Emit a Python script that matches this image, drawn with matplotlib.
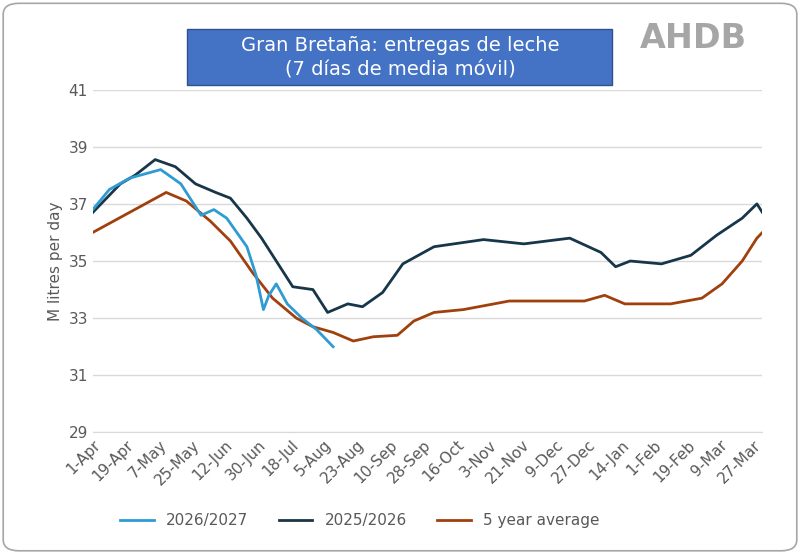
import matplotlib.pyplot as plt
from matplotlib.patches import FancyBboxPatch, Rectangle

tick_labels = ['1-Apr', '19-Apr', '7-May', '25-May', '12-Jun', '30-Jun', '18-Jul', '5-Aug',
               '23-Aug', '10-Sep', '28-Sep', '16-Oct', '3-Nov', '21-Nov', '9-Dec', '27-Dec',
               '14-Jan', '1-Feb', '19-Feb', '9-Mar', '27-Mar']

# days since 1-Apr
avg_days = [0, 20, 40, 51, 64, 75, 87, 98, 111, 120, 131, 142, 153, 166, 175, 186, 202, 227,
            246, 268, 279, 290, 315, 332, 343, 354, 362, 365]
avg_vals = [36.0, 36.7, 37.4, 37.1, 36.4, 35.7, 34.6, 33.7, 33.0, 32.7, 32.5, 32.2, 32.35,
            32.4, 32.9, 33.2, 33.3, 33.6, 33.6, 33.6, 33.8, 33.5, 33.5, 33.7, 34.2, 35.0, 35.8,
            36.0]

y25_days = [0, 15, 23, 34, 45, 56, 67, 75, 84, 92, 100, 109, 120, 128, 139, 147, 158, 169,
            186, 213, 235, 260, 277, 285, 293, 310, 326, 340, 354, 362, 365]
y25_vals = [36.7, 37.7, 38.0, 38.55, 38.3, 37.7, 37.4, 37.2, 36.5, 35.8, 35.0, 34.1, 34.0,
            33.2, 33.5, 33.4, 33.9, 34.9, 35.5, 35.75, 35.6, 35.8, 35.3, 34.8, 35.0, 34.9,
            35.2, 35.9, 36.5, 37.0, 36.7]

y26_days = [0, 9, 20, 37, 48, 59, 66, 73, 84, 89, 93, 96, 100, 106, 114, 122, 131]
y26_vals = [36.8, 37.5, 37.9, 38.2, 37.7, 36.6, 36.8, 36.5, 35.5, 34.5, 33.3, 33.8, 34.2,
            33.5, 33.0, 32.6, 32.0]

fig = plt.figure(figsize=(8, 5.53), dpi=100)
fig.patches.append(FancyBboxPatch((0.004, 0.004), 0.992, 0.99, boxstyle='round,pad=0,rounding_size=0.02',
                                  transform=fig.transFigure, fc='none', ec='#a6a6a6', lw=1.2))
ax = fig.add_axes([0.116, 0.218, 0.837, 0.62])
ax.plot(avg_days, avg_vals, color='#a0410d', lw=2, label='5 year average')
ax.plot(y25_days, y25_vals, color='#18364a', lw=2, label='2025/2026')
ax.plot(y26_days, y26_vals, color='#2e9bd5', lw=2, label='2026/2027')
ax.set_ylim(29, 41)
ax.set_yticks(range(29, 42, 2))
ax.set_xlim(0, 365)
ax.set_xticks([i * 18 for i in range(21)])
ax.set_xticklabels(tick_labels, rotation=45, ha='right', rotation_mode='anchor')
ax.tick_params(colors='#595959', labelsize=11, length=0)
ax.grid(axis='y', color='#d9d9d9', lw=1)
for s in ['top', 'right', 'left']:
    ax.spines[s].set_visible(False)
ax.spines['bottom'].set_color('#d9d9d9')
ax.set_ylabel('M litres per day', color='#595959', fontsize=11)

h, l = ax.get_legend_handles_labels()
fig.legend([h[2], h[1], h[0]], [l[2], l[1], l[0]], loc='lower center', bbox_to_anchor=(0.45, 0.02),
           ncol=3, frameon=False, fontsize=11, labelcolor='#595959', handlelength=2.2)

fig.patches.append(Rectangle((0.234, 0.847), 0.531, 0.1, transform=fig.transFigure,
                             fc='#4472c4', ec='#2f528f', lw=1))
fig.text(0.5, 0.897, 'Gran Bretaña: entregas de leche\n(7 días de media móvil)', ha='center',
         va='center', color='white', fontsize=14, linespacing=1.3)
fig.text(0.8, 0.93, 'AHDB', color='#a6a6a6', fontsize=24, fontweight='bold', va='center')

fig.savefig('out.png', dpi=100)
